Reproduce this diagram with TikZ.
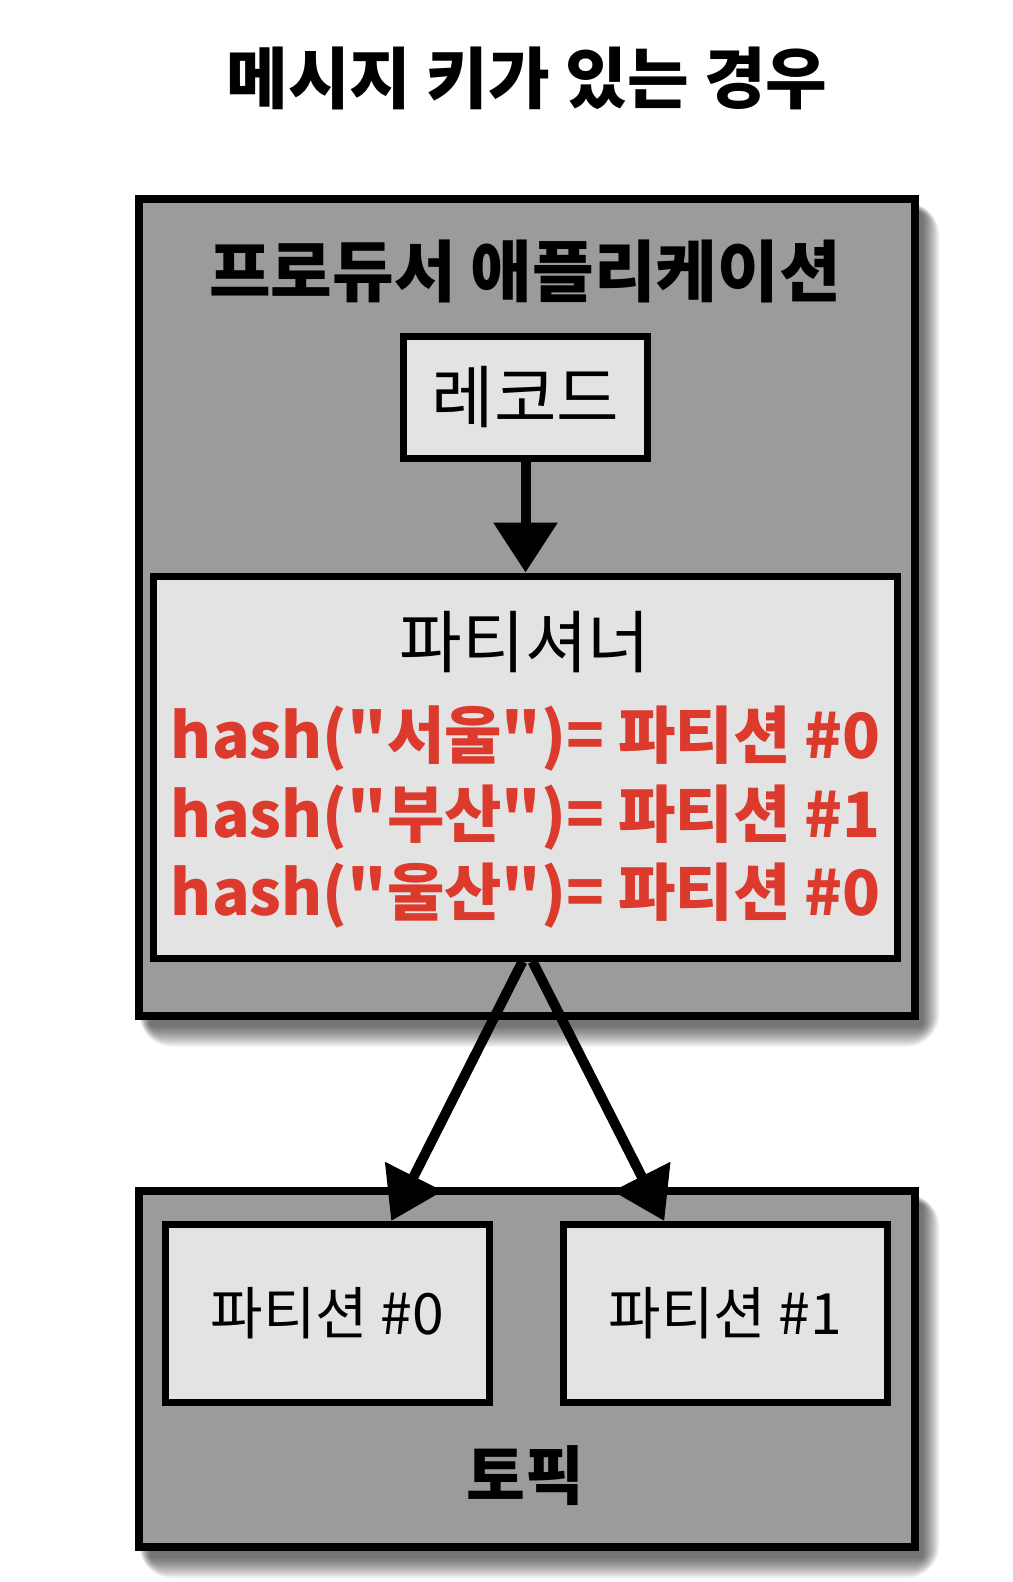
\documentclass[tikz,border=0pt]{standalone}
\usepackage{fontspec}
\setmainfont{Noto Sans CJK KR}[Ligatures=TeXOff]
\usetikzlibrary{arrows.meta,calc,backgrounds}
\definecolor{boxgray}{HTML}{9B9B9B}
\definecolor{boxlight}{HTML}{E3E3E3}
\definecolor{hashred}{HTML}{DB3A2C}
\begin{document}
\begin{tikzpicture}[x=0.5pt,y=-0.5pt,
  outerbox/.style={draw=black, line width=4pt, fill=boxgray, inner sep=0pt},
  innerbox/.style={draw=black, line width=3.5pt, fill=boxlight, inner sep=0pt},
  bigarrow/.style={line width=5pt, -{Triangle[length=25pt,width=31pt]}},
  redline/.style={text=hashred, font=\fontsize{31.2}{31.2}\selectfont\bfseries, inner sep=0pt},
  shadowlayer/.style={fill=black, fill opacity=0.065}
]
\useasboundingbox (-5,-6) rectangle (1007,1576);

\node[font=\fontsize{33.5}{33.5}\selectfont\bfseries, inner sep=0pt] (title) at (522,72) {메시지 키가 있는 경우};

% producer application
\node[outerbox, minimum width=388pt, minimum height=408pt] (prod) at (521.5,601.5) {};
\node[font=\fontsize{33.5}{33.5}\selectfont\bfseries, inner sep=0pt] (prodtitle) at (520,265) {프로듀서 애플리케이션};
\node[innerbox, minimum width=122pt, minimum height=61pt, font=\fontsize{34}{34}\selectfont] (rec) at (520.5,391.5) {레코드};
\node[innerbox, minimum width=372pt, minimum height=191pt] (part) at (520.5,761) {};
\node[font=\fontsize{34}{34}\selectfont, inner sep=0pt] (parttitle) at (520,636) {파티셔너};
\node[redline] (h1) at (521,733) {hash("서울")= 파티션 \#0};
\node[redline] (h2) at (521,812) {hash("부산")= 파티션 \#1};
\node[redline] (h3) at (521,890) {hash("울산")= 파티션 \#0};

% topic
\node[outerbox, minimum width=388pt, minimum height=178pt] (topic) at (521.5,1363) {};
\node[innerbox, minimum width=162pt, minimum height=89pt, font=\fontsize{28.5}{28.5}\selectfont] (p0) at (322.5,1307.5) {파티션 \#0};
\node[innerbox, minimum width=162pt, minimum height=89pt, font=\fontsize{28.5}{28.5}\selectfont] (p1) at (720.5,1307.5) {파티션 \#1};
\node[font=\fontsize{32}{32}\selectfont\bfseries, inner sep=0pt] (topictitle) at (520,1470) {토픽};

% connectors
\draw[bigarrow] (rec.south) -- (part.north);
\coordinate (s0) at ($(part.south)+(-3,0)$);
\coordinate (s1) at ($(part.south)+(7,0)$);
\draw[bigarrow] (s0) -- ($(p0.north)!0.385!(p0.north east)$);
\draw[bigarrow] (s1) -- ($(p1.north west)!0.63!(p1.north)$);

% background and soft shadows
\begin{scope}[on background layer]
  \fill[white] (-5,-6) rectangle (1007,1576);
  \foreach \s in {1,...,11} {
    \fill[shadowlayer, rounded corners=1.5*\s] ($(prod.north west)+(16-\s,18-\s)$) rectangle ($(prod.south east)+(3+1.6*\s,5+2*\s)$);
    \fill[shadowlayer, rounded corners=1.5*\s] ($(topic.north west)+(16-\s,18-\s)$) rectangle ($(topic.south east)+(3+1.6*\s,5+2*\s)$);
  }
\end{scope}
\end{tikzpicture}
\end{document}
